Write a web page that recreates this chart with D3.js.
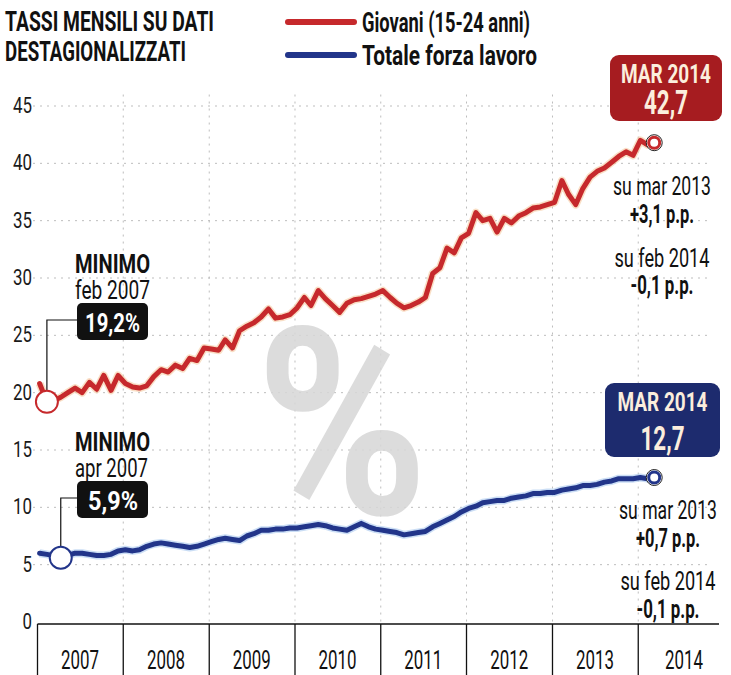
<!DOCTYPE html>
<html>
<head>
<meta charset="utf-8">
<script src="https://cdn.jsdelivr.net/npm/d3@7"></script>
<style>
  body { margin: 0; background: #fff; }
  svg { display: block; }
  text { font-family: Roboto, "Liberation Sans", sans-serif; }
</style>
</head>
<body>
<div class="grafico"></div>
<script>
// anni sull'asse x e tacche dell'asse y
const anni = [2007, 2008, 2009, 2010, 2011, 2012, 2013, 2014];
const tickY = [0, 5, 10, 15, 20, 25, 30, 35, 40, 45];

// tasso di disoccupazione mensile, gen 2007 - mar 2014
const giovani = [
  20.8, 19.2, 19.3, 19.6, 20.0, 20.4, 20.0, 20.9, 20.3, 21.5, 20.2, 21.5,
  20.8, 20.5, 20.4, 20.6, 21.4, 22.0, 21.8, 22.4, 22.1, 23.0, 22.8, 23.9,
  23.8, 23.7, 24.6, 23.9, 25.4, 25.8, 26.1, 26.6, 27.3, 26.5, 26.6, 26.8,
  27.4, 28.3, 27.6, 28.9, 28.2, 27.6, 27.0, 27.8, 28.1, 28.2, 28.4, 28.6,
  28.9, 28.3, 27.8, 27.4, 27.6, 27.9, 28.3, 30.4, 30.9, 32.6, 32.2, 33.5,
  33.9, 35.7, 35.0, 35.2, 34.0, 35.2, 34.8, 35.4, 35.7, 36.1, 36.2, 36.4,
  36.6, 38.5, 37.3, 36.4, 37.8, 38.8, 39.3, 39.6, 40.1, 40.6, 41.0, 40.7,
  42.0, 41.6, 41.8
];
const totale = [
  6.0, 5.9, 5.8, 5.6, 5.8, 6.0, 6.0, 5.9, 5.8, 5.8, 5.9, 6.2,
  6.3, 6.2, 6.3, 6.6, 6.8, 6.9, 6.8, 6.7, 6.6, 6.5, 6.6, 6.8,
  7.0, 7.2, 7.3, 7.2, 7.1, 7.5, 7.7, 8.0, 8.0, 8.1, 8.1, 8.2,
  8.2, 8.3, 8.4, 8.5, 8.4, 8.2, 8.1, 8.0, 8.3, 8.6, 8.3, 8.1,
  8.0, 7.9, 7.8, 7.6, 7.7, 7.8, 7.9, 8.3, 8.6, 8.9, 9.2, 9.6,
  9.9, 10.1, 10.4, 10.5, 10.6, 10.6, 10.8, 10.9, 11.0, 11.2, 11.2, 11.3,
  11.3, 11.5, 11.6, 11.7, 11.9, 11.9, 12.0, 12.2, 12.3, 12.5, 12.5, 12.5,
  12.6, 12.5, 12.6
];

// serie ed etichette
const serie = [
  { nome: "Giovani (15-24 anni)", valori: giovani, colore: "#c6292c", alone: "#f5c9a0", box: "#a61c20" },
  { nome: "Totale forza lavoro", valori: totale, colore: "#22358a", alone: "#a9c8ef", box: "#1d2b6e" }
];
const minimi = [
  { serie: 0, mese: 1, titolo: "MINIMO", quando: "feb 2007", valore: "19,2%" },
  { serie: 1, mese: 3, titolo: "MINIMO", quando: "apr 2007", valore: "5,9%" }
];
const ultimi = [
  { serie: 0, quando: "MAR 2014", valore: "42,7", annuo: "+3,1 p.p.", mensile: "-0,1 p.p." },
  { serie: 1, quando: "MAR 2014", valore: "12,7", annuo: "+0,7 p.p.", mensile: "-0,1 p.p." }
];

const W = 731, H = 675;
const svg = d3.select(".grafico").append("svg")
  .attr("width", W)
  .attr("height", H);

const mesi = giovani.map((d, i) => new Date(2007, i, 10));

const x = d3.scaleTime()
  .domain([new Date(2007, 0, 1), new Date(2015, 0, 1)])
  .range([37.5, 724]);

const y = d3.scaleLinear()
  .domain([0, 45])
  .range([622, 106]);

// testo stretto come il carattere condensato dell'originale
function stretto(sel, larghezza) {
  return sel.attr("textLength", larghezza).attr("lengthAdjust", "spacingAndGlyphs");
}

// griglia tratteggiata
svg.append("g")
  .selectAll("line")
  .data(tickY.filter(d => d > 0))
  .enter().append("line")
  .attr("x1", 33).attr("x2", 712)
  .attr("y1", d => y(d)).attr("y2", d => y(d))
  .attr("stroke", "#b5b5b5")
  .attr("stroke-width", 0.9)
  .attr("stroke-dasharray", "2,5");

svg.append("g")
  .selectAll("line")
  .data(anni.slice(1))
  .enter().append("line")
  .attr("x1", d => x(new Date(d, 0, 1))).attr("x2", d => x(new Date(d, 0, 1)))
  .attr("y1", y(46)).attr("y2", y(0))
  .attr("stroke", "#b5b5b5")
  .attr("stroke-width", 0.9)
  .attr("stroke-dasharray", "2,5");

// etichette asse y
svg.append("g")
  .selectAll("text")
  .data(tickY)
  .enter().append("text")
  .attr("x", 32)
  .attr("y", d => y(d) + 7)
  .attr("text-anchor", "end")
  .style("font-size", "22px")
  .attr("fill", "#1a1a1a")
  .attr("textLength", d => String(d).length * 9.5)
  .attr("lengthAdjust", "spacingAndGlyphs")
  .text(d => d);

// simbolo % sullo sfondo
svg.append("text")
  .attr("x", 256)
  .attr("y", 514)
  .style("font-size", "262px")
  .style("font-weight", "bold")
  .attr("fill", "#d7d7d7")
  .attr("opacity", 0.85)
  .call(stretto, 172)
  .text("%");

// asse x: linea, separatori e anni
svg.append("line")
  .attr("x1", x(new Date(2007, 0, 1))).attr("x2", 719)
  .attr("y1", 624).attr("y2", 624)
  .attr("stroke", "#111")
  .attr("stroke-width", 1.6);

svg.append("g")
  .selectAll("line")
  .data(anni)
  .enter().append("line")
  .attr("x1", d => x(new Date(d, 0, 1))).attr("x2", d => x(new Date(d, 0, 1)))
  .attr("y1", 624).attr("y2", H)
  .attr("stroke", "#111")
  .attr("stroke-width", 1.3);

svg.append("g")
  .selectAll("text")
  .data(anni)
  .enter().append("text")
  .attr("x", d => d === 2014 ? 665 : x(new Date(d, 6, 1)) - 19)
  .attr("y", 669)
  .style("font-size", "25px")
  .attr("fill", "#111")
  .call(stretto, 38)
  .text(d => d);

// linee
const linea = d3.line()
  .x((d, i) => x(mesi[i]))
  .y(d => y(d));

serie.forEach(s => {
  svg.append("path")
    .datum(s.valori)
    .attr("fill", "none")
    .attr("stroke", s.alone)
    .attr("stroke-width", 8)
    .attr("stroke-linejoin", "round")
    .attr("opacity", 0.6)
    .attr("d", linea);
  svg.append("path")
    .datum(s.valori)
    .attr("fill", "none")
    .attr("stroke", s.colore)
    .attr("stroke-width", 5)
    .attr("stroke-linejoin", "round")
    .attr("stroke-linecap", "round")
    .attr("d", linea);
});

// minimi: cerchio, linea di richiamo, box nero
minimi.forEach((m, k) => {
  const s = serie[m.serie];
  const cx = x(mesi[m.mese]);
  const cy = y(s.valori[m.mese]);
  const top = k === 0 ? 252 : 430;
  const boxY = top + 51;
  svg.append("path")
    .attr("d", `M77,${boxY + 17} H${cx} V${cy - 10}`)
    .attr("fill", "none")
    .attr("stroke", "#111")
    .attr("stroke-width", 1.2);
  svg.append("circle")
    .attr("cx", cx).attr("cy", cy).attr("r", 11)
    .attr("fill", "#fff")
    .attr("stroke", s.colore)
    .attr("stroke-width", 2);
  svg.append("text")
    .attr("x", 75).attr("y", top + 21)
    .style("font-size", "26px").style("font-weight", "bold")
    .attr("fill", "#111")
    .call(stretto, 75)
    .text(m.titolo);
  svg.append("text")
    .attr("x", 75).attr("y", top + 47)
    .style("font-size", "25px")
    .attr("fill", "#111")
    .call(stretto, k === 0 ? 75 : 73)
    .text(m.quando);
  svg.append("rect")
    .attr("x", 77).attr("y", boxY)
    .attr("width", 71).attr("height", 37)
    .attr("rx", 5)
    .attr("fill", "#111");
  svg.append("text")
    .attr("x", k === 0 ? 85 : 88).attr("y", boxY + 29)
    .style("font-size", "26px").style("font-weight", "bold")
    .attr("fill", "#fff")
    .call(stretto, k === 0 ? 55 : 50)
    .text(m.valore);
});

// ultimo dato: cerchio finale, box e variazioni
ultimi.forEach((u, k) => {
  const s = serie[u.serie];
  const n = s.valori.length - 1;
  const cx = x(mesi[n]);
  const cy = y(s.valori[n]);
  const box = k === 0 ? { x: 610, y: 55, w: 112, h: 66 } : { x: 605, y: 383, w: 115, h: 74 };
  const testo = k === 0 ? { cx: 662, a: 195, b: 223, c: 267, d: 294 } : { cx: 668, a: 519, b: 547, c: 590, d: 618 };
  const mezzo = box.x + box.w / 2;

  svg.append("rect")
    .attr("x", box.x).attr("y", box.y)
    .attr("width", box.w).attr("height", box.h)
    .attr("rx", 9)
    .attr("fill", s.box);
  svg.append("text")
    .attr("x", mezzo - 45).attr("y", box.y + 28)
    .style("font-size", "26px").style("font-weight", "bold")
    .attr("fill", "#fbeedd")
    .call(stretto, 90)
    .text(u.quando);
  svg.append("text")
    .attr("x", mezzo - 22).attr("y", box.y + box.h - 7)
    .style("font-size", "34px").style("font-weight", "bold")
    .attr("fill", "#fbeedd")
    .call(stretto, 44)
    .text(u.valore);

  svg.append("circle")
    .attr("cx", cx).attr("cy", cy).attr("r", 8)
    .attr("fill", "#fff")
    .attr("stroke", "#222")
    .attr("stroke-width", 1);
  svg.append("circle")
    .attr("cx", cx).attr("cy", cy).attr("r", 5.5)
    .attr("fill", "#fff")
    .attr("stroke", s.colore)
    .attr("stroke-width", 3);

  const righe = [
    { t: "su mar 2013", y: testo.a, b: false, w: 98 },
    { t: u.annuo, y: testo.b, b: true, w: 64 },
    { t: "su feb 2014", y: testo.c, b: false, w: 95 },
    { t: u.mensile, y: testo.d, b: true, w: 63 }
  ];
  svg.append("g")
    .selectAll("text")
    .data(righe)
    .enter().append("text")
    .attr("x", d => testo.cx - d.w / 2)
    .attr("y", d => d.y)
    .style("font-size", "25px")
    .style("font-weight", d => d.b ? "bold" : "normal")
    .attr("fill", "#111")
    .attr("textLength", d => d.w)
    .attr("lengthAdjust", "spacingAndGlyphs")
    .text(d => d.t);
});

// titolo
svg.append("text")
  .attr("x", 5).attr("y", 31)
  .style("font-size", "28px").style("font-weight", "bold")
  .attr("fill", "#111")
  .call(stretto, 209)
  .text("TASSI MENSILI SU DATI");
svg.append("text")
  .attr("x", 5).attr("y", 61)
  .style("font-size", "28px").style("font-weight", "bold")
  .attr("fill", "#111")
  .call(stretto, 181)
  .text("DESTAGIONALIZZATI");

// legenda
const legenda = svg.append("g");
serie.forEach((s, i) => {
  const ly = 22 + i * 33;
  legenda.append("line")
    .attr("x1", 288).attr("x2", 354)
    .attr("y1", ly).attr("y2", ly)
    .attr("stroke", s.colore)
    .attr("stroke-width", 6)
    .attr("stroke-linecap", "round");
  legenda.append("text")
    .attr("x", 362).attr("y", ly + 10)
    .style("font-size", "27px").style("font-weight", "bold")
    .attr("fill", "#111")
    .call(stretto, i === 0 ? 168 : 175)
    .text(s.nome);
});
</script>
</body>
</html>
